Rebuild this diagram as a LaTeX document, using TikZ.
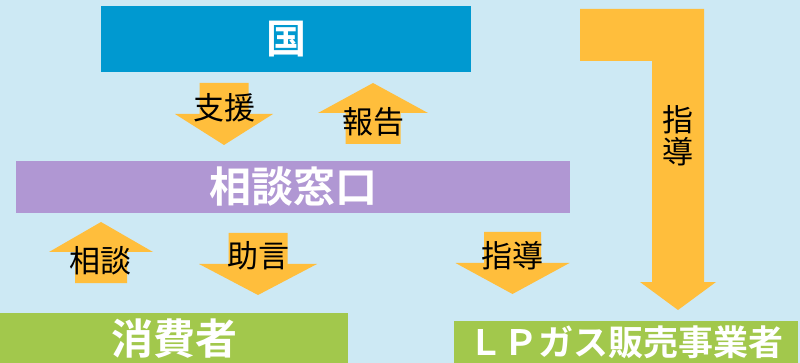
\documentclass[tikz,border=0pt]{standalone}
\usepackage{fontspec}
\newfontfamily\jp{Noto Sans CJK JP}[BoldFont=* Bold]
\definecolor{haikei}{RGB}{205,233,244}
\definecolor{kuniao}{RGB}{0,153,208}
\definecolor{murasaki}{RGB}{176,151,211}
\definecolor{midori}{RGB}{162,200,76}
\definecolor{daidai}{RGB}{255,190,60}
\tikzset{
  box/.style={fill=#1, text=white, inner sep=0pt, font=\jp\bfseries\fontsize{42}{42}\selectfont},
  lbl/.style={text=black, inner sep=0pt, font=\jp\fontsize{31}{32}\selectfont},
  yajirushi/.style={fill=daidai}
}
\begin{document}
\begin{tikzpicture}[x=1pt, y=-1pt]
\fill[haikei](0,0) rectangle (800,363);
\useasboundingbox (0,0) rectangle (800,363);

% boxes
\node[box=kuniao, minimum width=370, minimum height=66, font=\jp\bfseries\fontsize{40}{40}\selectfont] (kuni) at (286,39) {国};
\node[box=murasaki, minimum width=554, minimum height=52] (madoguchi) at (293,187) {相談窓口};
\node[box=midori, minimum width=348, minimum height=51] (shohisha) at (174,338.5) {消費者};
\node[box=midori, minimum width=344, minimum height=43, font=\jp\bfseries\fontsize{35}{35}\selectfont] (jigyosha) at (626,342) {ＬＰガス販売事業者};

% down arrows
\foreach \x/\y/\w in {224/83/24.5, 258/233/29.5, 512.5/232/28.5}
{
    \fill[yajirushi](\x-\w,\y) -- (\x+\w,\y) -- (\x+\w,\y+31) -- (\x+2*\w,\y+31)
        -- (\x,\y+62) -- (\x-2*\w,\y+31) -- (\x-\w,\y+31) -- cycle;
}
% up arrows
\foreach \x/\y/\w in {373/83/27.5, 101/222/26}
{
    \fill[yajirushi](\x,\y) -- (\x+2*\w,\y+30) -- (\x+\w,\y+30) -- (\x+\w,\y+61)
        -- (\x-\w,\y+61) -- (\x-\w,\y+30) -- (\x-2*\w,\y+30) -- cycle;
}
% big arrow
\fill[yajirushi](580,9) -- (704,9) -- (704,282) -- (716,282) -- (678,310)
    -- (640,282) -- (652,282) -- (652,61) -- (580,61) -- cycle;

\node[lbl] (shien) at (224,108) {支援};
\node[lbl] (hokoku) at (373,122) {報告};
\node[lbl] (sodan) at (100,261) {相談};
\node[lbl] (jogen) at (258,256) {助言};
\node[lbl] (shido) at (512,256) {指導};
\node[lbl, align=center] (shido2) at (678,136) {指\\導};
\end{tikzpicture}
\end{document}
